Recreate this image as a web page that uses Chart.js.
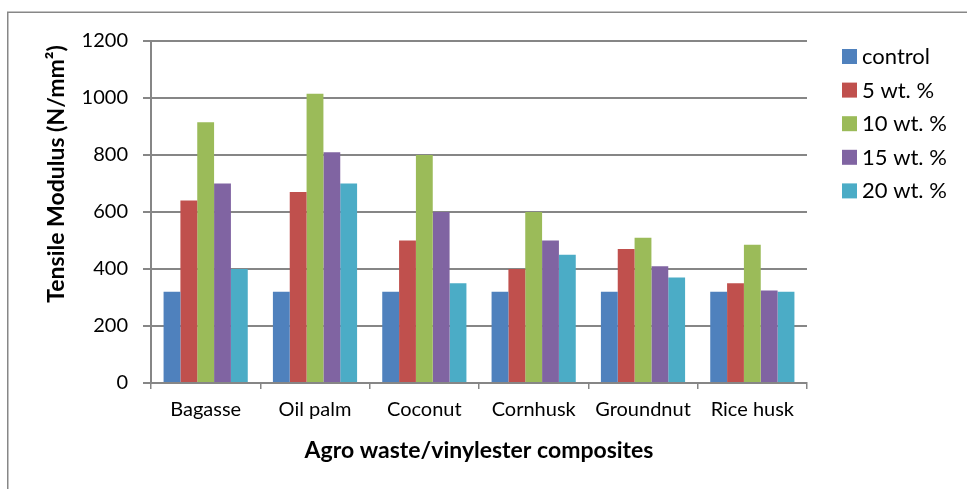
<!DOCTYPE html>
<html>
<head>
<meta charset="utf-8">
<script src="https://cdn.jsdelivr.net/npm/chart.js@4"></script>
<style>
  html, body { margin: 0; padding: 0; background: #fff; }
  #wrap { width: 967px; height: 489px; position: relative; }
</style>
</head>
<body>
<div id="wrap"><canvas id="c" width="967" height="489"></canvas></div>
<script>
const categories = ['Bagasse', 'Oil palm', 'Coconut', 'Cornhusk', 'Groundnut', 'Rice husk'];
const seriesNames = ['control', '5 wt. %', '10 wt. %', '15 wt. %', '20 wt. %'];
const control = [320, 320, 320, 320, 320, 320];
const wt5 = [640, 670, 500, 400, 470, 350];
const wt10 = [915, 1015, 800, 600, 510, 485];
const wt15 = [700, 810, 600, 500, 410, 325];
const wt20 = [400, 700, 350, 450, 370, 320];
const yTicks = [0, 200, 400, 600, 800, 1000, 1200];
const colors = ['#4F81BD', '#C0504D', '#9BBB59', '#8064A2', '#4BACC6'];

const FONT = 'Lato, "Open Sans", sans-serif';
const GRID = '#868686';

const seriesValues = [control, wt5, wt10, wt15, wt20];
const datasets = seriesValues.map((vals, i) => ({
  label: seriesNames[i],
  data: vals,
  backgroundColor: colors[i],
  borderWidth: 0,
  categoryPercentage: 0.77,
  barPercentage: 1.0
}));

// Outer frame, rotated y title and legend
const extras = {
  id: 'extras',
  beforeDraw(chart) {
    const ctx = chart.ctx;
    ctx.save();
    ctx.fillStyle = '#fff';
    ctx.fillRect(0, 0, chart.width, chart.height);
    ctx.strokeStyle = '#878787';
    ctx.lineWidth = 1.5;
    ctx.strokeRect(7.75, 12.25, chart.width + 10, chart.height + 10);
    ctx.restore();
  },
  afterDraw(chart) {
    const ctx = chart.ctx;
    ctx.save();
    // y axis title
    ctx.translate(57, 174);
    ctx.rotate(-Math.PI / 2);
    ctx.fillStyle = '#000';
    ctx.font = 'bold 23px ' + FONT;
    ctx.textAlign = 'center';
    ctx.textBaseline = 'middle';
    ctx.fillText('Tensile Modulus (N/mm²)', 0, 0);
    ctx.restore();

    // legend
    ctx.save();
    ctx.font = '22px ' + FONT;
    ctx.textBaseline = 'middle';
    chart.data.datasets.forEach((ds, i) => {
      const y = 56 + i * 33.6;
      ctx.fillStyle = ds.backgroundColor;
      ctx.fillRect(842, y - 7, 15, 15);
      ctx.fillStyle = '#000';
      ctx.fillText(ds.label, 862, y + 1);
    });
    ctx.restore();
  }
};

new Chart(document.getElementById('c'), {
  type: 'bar',
  data: { labels: categories, datasets },
  options: {
    responsive: false,
    animation: false,
    devicePixelRatio: 1,
    layout: { padding: { left: 0, right: 160, top: 41, bottom: 0 } },
    plugins: {
      legend: { display: false },
      tooltip: { enabled: false }
    },
    scales: {
      x: {
        offset: true,
        grid: {
          offset: true,
          drawOnChartArea: false,
          color: GRID,
          tickLength: 6,
          lineWidth: 1.5
        },
        border: { color: GRID, width: 2 },
        ticks: { color: '#000', font: { family: FONT, size: 20 }, padding: 9, maxRotation: 0 },
        title: {
          display: true,
          text: 'Agro waste/vinylester composites',
          color: '#000',
          font: { family: FONT, size: 23, weight: 'bold' },
          padding: { top: 8, bottom: 25 }
        },
        afterFit(scale) { scale.height = 106; }
      },
      y: {
        min: 0,
        max: 1200,
        afterBuildTicks(scale) { scale.ticks = yTicks.map(v => ({ value: v })); },
        grid: { color: GRID, lineWidth: 2, tickLength: 8 },
        border: { color: GRID, width: 2 },
        ticks: {
          color: '#000',
          font: { family: FONT, size: 20 },
          padding: 15,
          callback: (v) => String(v)
        },
        afterFit(scale) { scale.width = 151; }
      }
    }
  },
  plugins: [extras]
});
</script>
</body>
</html>
